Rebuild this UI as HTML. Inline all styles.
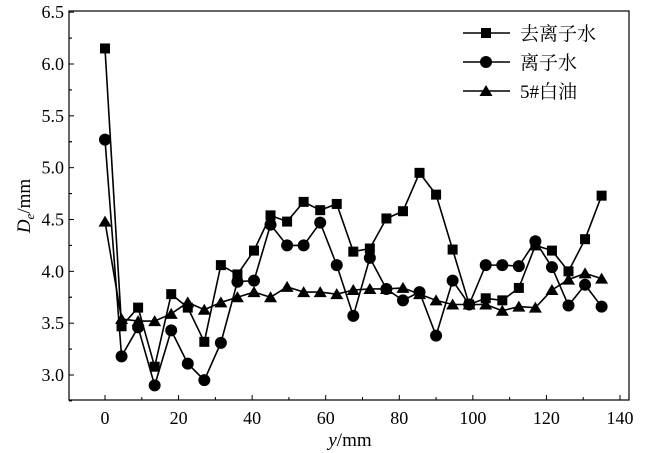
<!DOCTYPE html>
<html><head><meta charset="utf-8"><style>body{margin:0;background:#fff}svg{display:block}</style></head>
<body>
<svg id="chart" width="646" height="453" xmlns="http://www.w3.org/2000/svg" font-family="Liberation Serif, serif"></svg>
<script>
const xs=[0,4.5,9,13.5,18,22.5,27,31.5,36,40.5,45,49.5,54,58.5,63,67.5,72,76.5,81,85.5,90,94.5,99,103.5,108,112.5,117,121.5,126,130.5,135];
const deionized=[6.15,3.47,3.65,3.08,3.78,3.65,3.32,4.06,3.97,4.2,4.54,4.48,4.67,4.59,4.65,4.19,4.22,4.51,4.58,4.95,4.74,4.21,3.68,3.74,3.72,3.84,4.25,4.2,4.0,4.31,4.73];
const ionized=[5.27,3.18,3.46,2.9,3.43,3.11,2.95,3.31,3.9,3.91,4.45,4.25,4.25,4.47,4.06,3.57,4.13,3.83,3.72,3.8,3.38,3.91,3.68,4.06,4.06,4.05,4.29,4.04,3.67,3.87,3.66];
const whiteOil=[4.48,3.54,3.52,3.52,3.59,3.7,3.63,3.7,3.75,3.8,3.75,3.85,3.8,3.8,3.78,3.82,3.83,3.83,3.84,3.78,3.72,3.68,3.68,3.68,3.62,3.66,3.65,3.82,3.92,3.98,3.93];
const xTicks=[0,20,40,60,80,100,120,140];
const yTicks=[3.0,3.5,4.0,4.5,5.0,5.5,6.0,6.5];
const NS='http://www.w3.org/2000/svg',svg=document.getElementById('chart');
const L=69,R=629,T=11,B=400;
const X=v=>105+v*(620-105)/140;
const Y=v=>375-(v-3)*(375-64)/3;
function mk(t,a,p){const e=document.createElementNS(NS,t);for(const k in a)e.setAttribute(k,a[k]);(p||svg).appendChild(e);return e;}
const frame=mk('rect',{x:L,y:T,width:R-L,height:B-T,fill:'none',stroke:'#000','stroke-width':1.2});


xTicks.forEach((t,i)=>{mk('line',{x1:X(t),x2:X(t),y1:B,y2:B-5,stroke:'#000'});
 if(i<xTicks.length-1)mk('line',{x1:X(t+10),x2:X(t+10),y1:B,y2:B-3,stroke:'#000'});
 const tx=mk('text',{x:X(t),y:B+24,'font-size':18,'text-anchor':'middle'});tx.textContent=t;
 
 });
yTicks.forEach((t,i)=>{mk('line',{x1:L,x2:L+5,y1:Y(t),y2:Y(t),stroke:'#000'});
 if(i<yTicks.length-1)mk('line',{x1:L,x2:L+3,y1:Y(t+0.25),y2:Y(t+0.25),stroke:'#000'});
 mk('line',{x1:L,x2:L+3,y1:Y(t-0.25),y2:Y(t-0.25),stroke:'#000'});
 const tx=mk('text',{x:L-5,y:Y(t)+6,'font-size':18,'text-anchor':'end'});tx.textContent=t.toFixed(1);
 
 });
const xt=mk('text',{x:350,y:446,'font-size':19,'text-anchor':'middle'});
xt.innerHTML='<tspan font-style="italic">y</tspan>/mm';


const yt=mk('text',{transform:'translate(30,206) rotate(-90)','font-size':19,'text-anchor':'middle'});
yt.innerHTML='<tspan font-style="italic">D</tspan><tspan font-style="italic" font-size="13" dy="4">e</tspan><tspan dy="-4">/mm</tspan>';


function marker(type,cx,cy,g){
 if(type==='s')return mk('rect',{x:cx-5,y:cy-5,width:10,height:10,fill:'#000'},g);
 if(type==='c')return mk('circle',{cx:cx,cy:cy,r:6,fill:'#000'},g);
 return mk('polygon',{points:`${cx},${cy-6} ${cx-6.5},${cy+5} ${cx+6.5},${cy+5}`,fill:'#000'},g);}
const series=[[deionized,'s','series-deionized-water'],[ionized,'c','series-ionized-water'],[whiteOil,'t','series-white-oil']];
series.forEach(([d,m,n])=>{const g=mk('g',{});
 
 
 mk('polyline',{points:d.map((v,i)=>X(xs[i])+','+Y(v)).join(' '),fill:'none',stroke:'#000','stroke-width':1.6},g);
 d.forEach((v,i)=>{const p=marker(m,X(xs[i]),Y(v),g);
  
  });});
const lg=mk('g',{});


const labels=['去离子水','离子水','5#白油'],types=['s','c','t'];
labels.forEach((l,i)=>{const y=33+i*29;const e=mk('g',{},lg);
 
 
 mk('line',{x1:463,x2:510,y1:y,y2:y,stroke:'#000','stroke-width':1.6},e);
 marker(types[i],486,y,e);
 const t=mk('text',{x:520,y:y+7,'font-size':19,'font-family':'Liberation Serif, Noto Serif CJK SC, serif'},e);t.textContent=l;});
</script>
</body></html>
